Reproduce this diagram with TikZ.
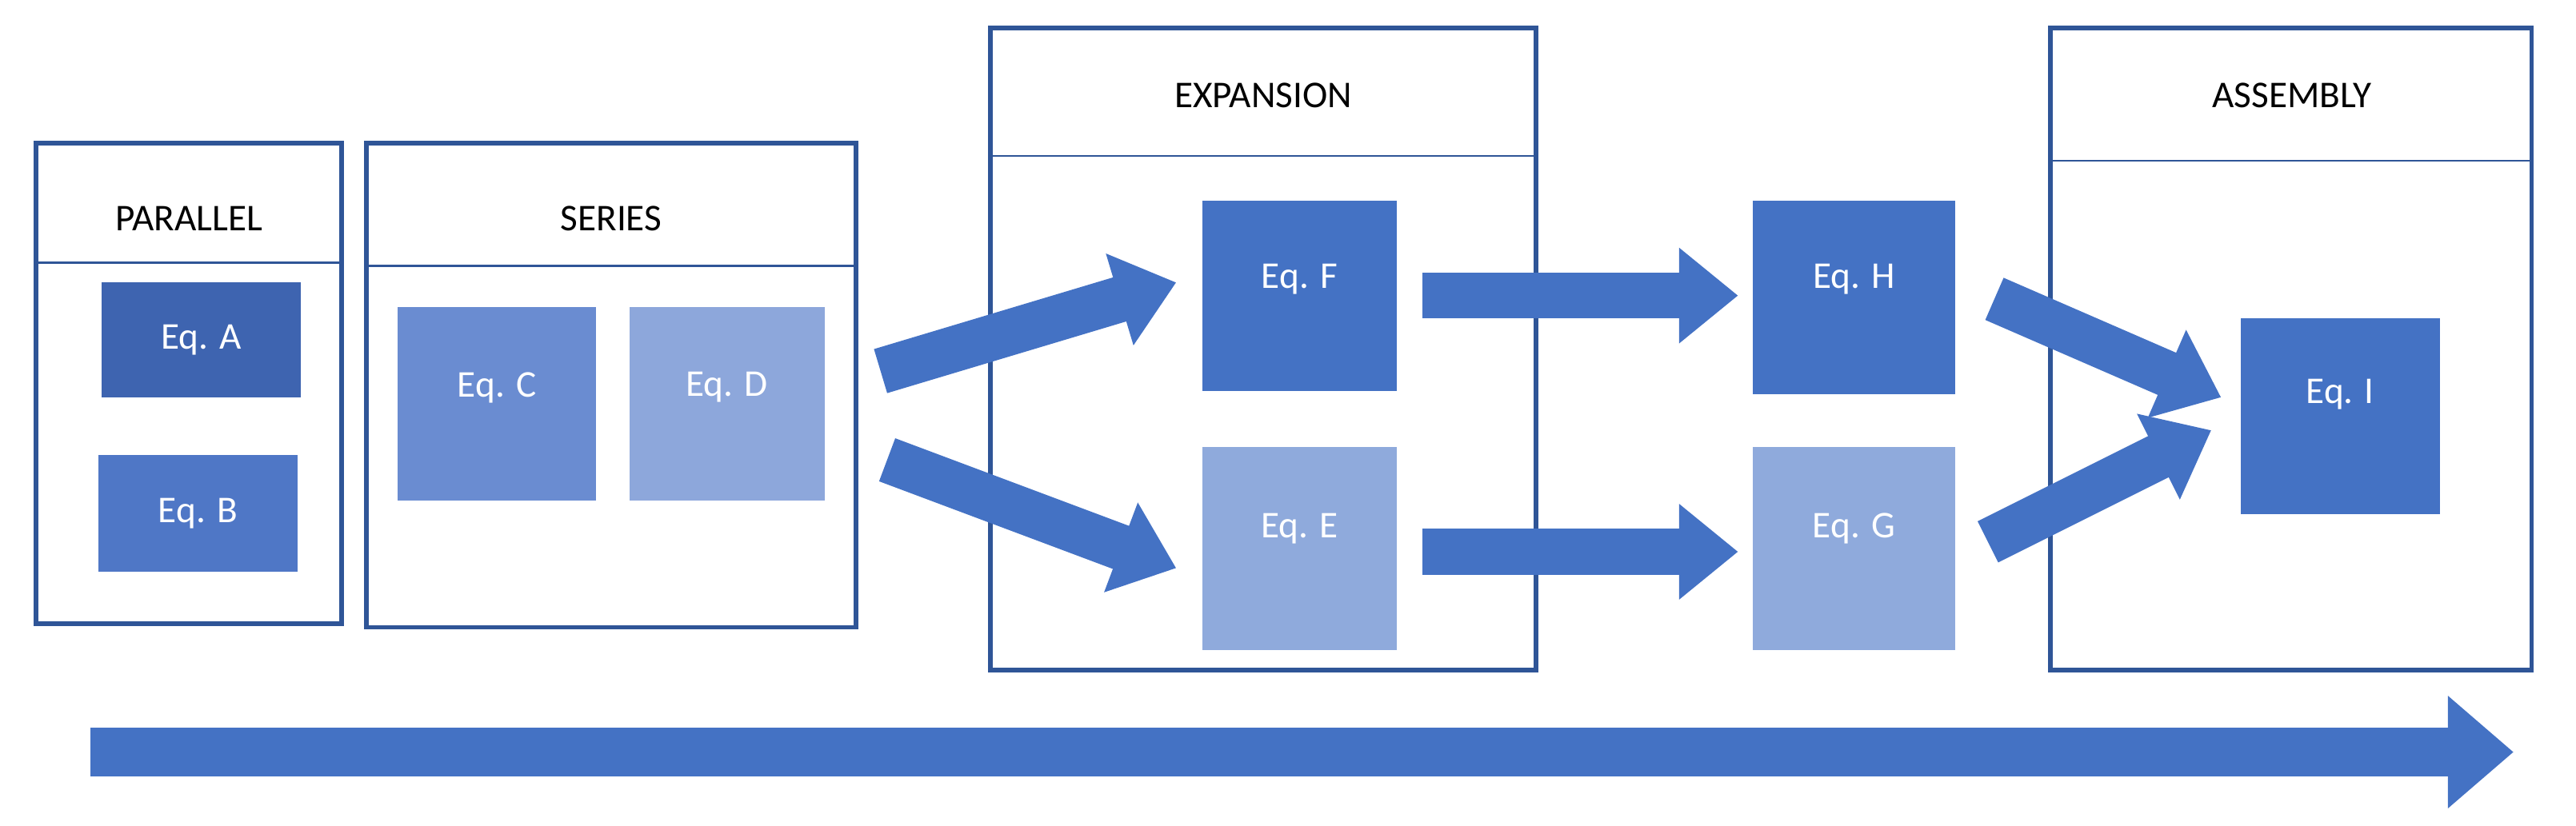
\documentclass[tikz,border=0pt]{standalone}
\usepackage{fontspec}
\setmainfont{Carlito}
\usetikzlibrary{arrows.meta}
\definecolor{edge}{HTML}{2F5597}
\definecolor{cA}{HTML}{3E64B0}
\definecolor{cB}{HTML}{4F77C6}
\definecolor{cC}{HTML}{6A8CD1}
\definecolor{cD}{HTML}{8DA7DB}
\definecolor{cM}{HTML}{4472C4}
\definecolor{cL}{HTML}{8FAADC}
\begin{document}
\begin{tikzpicture}[x=0.5pt,y=-0.5pt,
  frame/.style={draw=edge,line width=1.4pt},
  hline/.style={draw=edge,line width=0.6pt},
  eq/.style={text=white,font=\fontsize{11.5}{13}\selectfont},
  lbl/.style={font=\fontsize{11.5}{13}\selectfont},
  blk/.style={draw=cM,line width=14pt,-{Triangle[width=28pt,length=18pt]}},
  big/.style={draw=cM,line width=15pt,-{Triangle[width=33pt,length=20pt]}}]
\useasboundingbox (0,0) rectangle (1568,503);
% frames
\draw[frame] (22,87) rectangle (208,380);
\draw[hline] (22,160) -- (208,160);
\node[lbl] (par) at (115,133) {PARALLEL};
\draw[frame] (223,87) rectangle (521,382);
\draw[hline] (223,162) -- (521,162);
\node[lbl] (ser) at (372,133) {SERIES};
\draw[frame] (603,17) rectangle (935,408);
\draw[hline] (603,95) -- (935,95);
\node[lbl] (exp) at (769,58) {EXPANSION};
\draw[frame] (1248,17) rectangle (1541,408);
\draw[hline] (1248,98) -- (1541,98);
\node[lbl] (asm) at (1395,58) {ASSEMBLY};
% eq boxes
\fill[cA] (62,172) rectangle (183,242); \node[eq] (A) at (122.5,207) {Eq. A};
\fill[cB] (60,277) rectangle (181,348); \node[eq] (B) at (120.5,312.5) {Eq. B};
\fill[cC] (242,187) rectangle (363,305); \node[eq] (C) at (302.5,236) {Eq. C};
\fill[cD] (383,187) rectangle (502,305); \node[eq] (D) at (442.5,236) {Eq. D};
\fill[cM] (732,122) rectangle (850,238); \node[eq] (F) at (791,170) {Eq. F};
\fill[cL] (732,272) rectangle (850,396); \node[eq] (E) at (791,322) {Eq. E};
\fill[cM] (1067,122) rectangle (1190,240); \node[eq] (H) at (1128.5,170) {Eq. H};
\fill[cL] (1067,272) rectangle (1190,396); \node[eq] (G) at (1128.5,322) {Eq. G};
\fill[cM] (1364,194) rectangle (1485,313); \node[eq] (I) at (1424.5,240) {Eq. I};
% arrows
\coordinate (d1) at (536,226); \coordinate (f1) at (716,172);
\coordinate (d2) at (540,280); \coordinate (e1) at (716,346);
\coordinate (f2) at (866,180); \coordinate (h1) at (1058,180);
\coordinate (e2) at (866,336); \coordinate (g1) at (1058,336);
\coordinate (h2) at (1214,182); \coordinate (i1) at (1352,242);
\coordinate (g2) at (1210,330); \coordinate (i2) at (1346,262);
\coordinate (s0) at (55,458); \coordinate (s1) at (1530,458);
\draw[blk] (d1) -- (f1);
\draw[blk] (d2) -- (e1);
\draw[blk] (f2) -- (h1);
\draw[blk] (e2) -- (g1);
\draw[blk] (h2) -- (i1);
\draw[blk] (g2) -- (i2);
\draw[big] (s0) -- (s1);
\end{tikzpicture}
\end{document}
